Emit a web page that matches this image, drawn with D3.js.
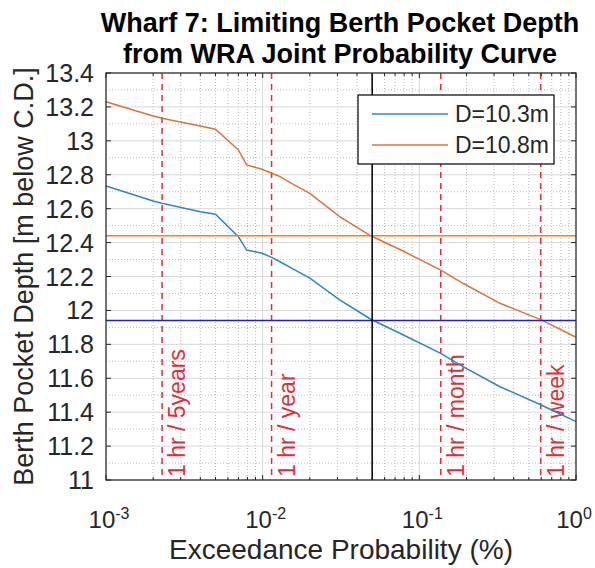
<!DOCTYPE html>
<html>
<head>
<meta charset="utf-8">
<script src="https://cdn.jsdelivr.net/npm/d3@7"></script>
<style>
  body { margin: 0; background: #fff; }
  text { font-family: "Liberation Sans", Arial, sans-serif; }
</style>
</head>
<body>
<div id="chart"></div>
<script>
// exceedance probability (%) and limiting depth for each draft
const probs = [0.001, 0.002, 0.00227, 0.004, 0.005, 0.007, 0.0079, 0.0099, 0.0114, 0.0129,
  0.0157, 0.02, 0.031, 0.049, 0.078, 0.137, 0.19, 0.327, 0.6, 1.0];
const depth103 = [12.734, 12.645, 12.632, 12.582, 12.567, 12.435, 12.356, 12.337, 12.313, 12.287,
  12.243, 12.19, 12.062, 11.948, 11.858, 11.747, 11.668, 11.55, 11.442, 11.344];
const depth108 = [13.231, 13.146, 13.133, 13.087, 13.068, 12.946, 12.858, 12.832, 12.809, 12.789,
  12.743, 12.69, 12.553, 12.44, 12.352, 12.238, 12.16, 12.042, 11.944, 11.842];
const seriesNames = ["D=10.3m", "D=10.8m"];

const limitProb = 0.05;
const limitDepths = [11.94, 12.44];

const eventProbs = [0.00228, 0.0114, 0.137, 0.595];
const eventLabels = ["1 hr / 5years", "1 hr / year", "1 hr / month", "1 hr / week"];

const yTicks = [11, 11.2, 11.4, 11.6, 11.8, 12, 12.2, 12.4, 12.6, 12.8, 13, 13.2, 13.4];
const xTicks = [1e-3, 1e-2, 1e-1, 1];
const xExps = ["-3", "-2", "-1", "0"];

const width = 595;
const height = 568;
const margin = {top: 73, right: 19, bottom: 88, left: 106};
const iw = width - margin.left - margin.right;
const ih = height - margin.top - margin.bottom;

const blue = "#2f86c0";
const orange = "#d9743e";
const red = "#dc2f3c";
const txt = "#262626";

const svg = d3.select("#chart")
  .append("svg")
  .attr("width", width)
  .attr("height", height);

const x = d3.scaleLog().domain([1e-3, 1]).range([0, iw]);
const y = d3.scaleLinear().domain([11, 13.4]).range([ih, 0]);

const g = svg.append("g").attr("transform", `translate(${margin.left},${margin.top})`);

// minor grid
const xMinor = [];
[1e-3, 1e-2, 1e-1].forEach(d => { for (let k = 2; k <= 9; k++) xMinor.push(d * k); });
const yMinor = d3.range(11.1, 13.4, 0.2);

g.append("g").selectAll("line").data(xMinor).join("line")
  .attr("x1", d => x(d)).attr("x2", d => x(d)).attr("y1", 0).attr("y2", ih)
  .attr("stroke", "#bdbdbd").attr("stroke-dasharray", "1,2").attr("stroke-width", 1);
g.append("g").selectAll("line").data(yMinor).join("line")
  .attr("y1", d => y(d)).attr("y2", d => y(d)).attr("x1", 0).attr("x2", iw)
  .attr("stroke", "#bdbdbd").attr("stroke-dasharray", "1,2").attr("stroke-width", 1);

// major grid
g.append("g").selectAll("line").data(xTicks).join("line")
  .attr("x1", d => x(d)).attr("x2", d => x(d)).attr("y1", 0).attr("y2", ih)
  .attr("stroke", "#d8d8d8").attr("stroke-width", 1);
g.append("g").selectAll("line").data(yTicks).join("line")
  .attr("y1", d => y(d)).attr("y2", d => y(d)).attr("x1", 0).attr("x2", iw)
  .attr("stroke", "#d8d8d8").attr("stroke-width", 1);

// event lines
g.append("g").selectAll("line").data(eventProbs).join("line")
  .attr("x1", d => x(d)).attr("x2", d => x(d)).attr("y1", 0).attr("y2", ih)
  .attr("stroke", red).attr("stroke-width", 1.5).attr("stroke-dasharray", "6,5");

g.append("g").selectAll("text").data(eventLabels).join("text")
  .attr("transform", (d, i) => `translate(${x(eventProbs[i]) + 23},${ih - 3}) rotate(-90)`)
  .attr("fill", red)
  .style("font-size", "23px")
  .text(d => d);

// curves
const line = d3.line().x(d => x(d[0])).y(d => y(d[1]));
[depth103, depth108].forEach((vals, i) => {
  g.append("path")
    .datum(probs.map((p, j) => [p, vals[j]]))
    .attr("d", line)
    .attr("fill", "none")
    .attr("stroke", i === 0 ? blue : orange)
    .attr("stroke-width", 1.5);
});

// limit lines
g.append("line")
  .attr("x1", 0).attr("x2", iw).attr("y1", y(limitDepths[1])).attr("y2", y(limitDepths[1]))
  .attr("stroke", "#f5821f").attr("stroke-width", 1.5);
g.append("line")
  .attr("x1", 0).attr("x2", iw).attr("y1", y(limitDepths[0])).attr("y2", y(limitDepths[0]))
  .attr("stroke", "#2020c8").attr("stroke-width", 1.5);
g.append("line")
  .attr("x1", x(limitProb)).attr("x2", x(limitProb)).attr("y1", 0).attr("y2", ih)
  .attr("stroke", "#000").attr("stroke-width", 1.5);

// ticks (inside, all four sides)
const ticks = g.append("g").attr("stroke", txt).attr("stroke-width", 1);
yTicks.forEach(d => {
  ticks.append("line").attr("x1", 0).attr("x2", 5).attr("y1", y(d)).attr("y2", y(d));
  ticks.append("line").attr("x1", iw).attr("x2", iw - 5).attr("y1", y(d)).attr("y2", y(d));
});
xTicks.forEach(d => {
  ticks.append("line").attr("x1", x(d)).attr("x2", x(d)).attr("y1", ih).attr("y2", ih - 5);
  ticks.append("line").attr("x1", x(d)).attr("x2", x(d)).attr("y1", 0).attr("y2", 5);
});
xMinor.forEach(d => {
  ticks.append("line").attr("x1", x(d)).attr("x2", x(d)).attr("y1", ih).attr("y2", ih - 3);
  ticks.append("line").attr("x1", x(d)).attr("x2", x(d)).attr("y1", 0).attr("y2", 3);
});

// frame
g.append("rect").attr("width", iw).attr("height", ih)
  .attr("fill", "none").attr("stroke", txt).attr("stroke-width", 1.2);

// tick labels
g.append("g").selectAll("text").data(yTicks).join("text")
  .attr("x", -12).attr("y", d => y(d)).attr("dy", "0.36em")
  .attr("text-anchor", "end").attr("fill", txt)
  .style("font-size", "25px")
  .text(d => d3.format("~g")(d));

const xl = g.append("g").selectAll("text").data(xTicks).join("text")
  .attr("x", (d, i) => x(d) + (i === xTicks.length - 1 ? -2 : 3)).attr("y", ih + 48)
  .attr("text-anchor", "middle").attr("fill", txt)
  .style("font-size", "24px");
xl.append("tspan").text("10");
xl.append("tspan").attr("dy", "-0.55em").style("font-size", "16px").text((d, i) => xExps[i]);

// axis labels
svg.append("text")
  .attr("x", margin.left + iw / 2).attr("y", 559)
  .attr("text-anchor", "middle").attr("fill", txt)
  .style("font-size", "28px")
  .text("Exceedance Probability (%)");
svg.append("text")
  .attr("transform", `translate(33,${margin.top + ih / 2}) rotate(-90)`)
  .attr("text-anchor", "middle").attr("fill", txt)
  .style("font-size", "27px")
  .text("Berth Pocket Depth [m below C.D.]");

// title
const title = svg.append("text")
  .attr("x", margin.left + iw / 2).attr("text-anchor", "middle")
  .attr("fill", "#000").style("font-size", "27px").style("font-weight", "bold");
title.append("tspan").attr("x", margin.left + iw / 2 - 1).attr("y", 32).text("Wharf 7: Limiting Berth Pocket Depth");
title.append("tspan").attr("x", margin.left + iw / 2 - 1).attr("y", 63).text("from WRA Joint Probability Curve");

// legend
const lg = svg.append("g").attr("transform", "translate(358,95)");
lg.append("rect").attr("width", 196).attr("height", 69)
  .attr("fill", "#fff").attr("stroke", "#000").attr("stroke-width", 1.2);
seriesNames.forEach((name, i) => {
  const yy = 19 + i * 31;
  lg.append("line").attr("x1", 14).attr("x2", 90).attr("y1", yy).attr("y2", yy)
    .attr("stroke", i === 0 ? blue : orange).attr("stroke-width", 1.5);
  lg.append("text").attr("x", 97).attr("y", yy).attr("dy", "0.36em")
    .attr("fill", txt).style("font-size", "23px").text(name);
});
</script>
</body>
</html>
